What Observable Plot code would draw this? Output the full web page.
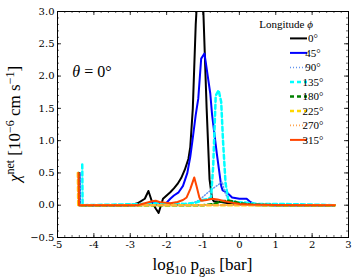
<!DOCTYPE html>
<html><head><meta charset="utf-8">
<script src="https://cdn.jsdelivr.net/npm/d3@7"></script>
<script src="https://cdn.jsdelivr.net/npm/@observablehq/plot@0.6"></script>
<style>body{margin:0;background:#fff} svg{display:block}</style>
</head><body><div id="chart"></div><script>
// ---- data (log10 p_gas [bar], chi_net [1e-6 cm/s]) ----
const labels = ["0°","45°","90°","135°","180°","225°","270°","315°"];
const p0   = [-4.41,-4.40,-3.0,-2.8,-2.6,-2.5,-2.4,-2.3,-2.22,-2.1,-2.0,-1.9,-1.8,-1.7,-1.6,-1.5,-1.4,-1.35,-1.28,-1.2,-1.08,-0.99,-0.9,-0.82,-0.75,-0.7,-0.5,-0.3,0.0,0.5,1.0,2.0,2.62];
const v0   = [0.5,0.0,0.0,0.03,0.1,0.22,0.05,-0.05,-0.12,0.1,0.15,0.2,0.26,0.33,0.42,0.55,0.72,0.9,1.5,2.8,4.0,3.0,1.5,0.4,0.1,0.06,0.05,0.03,0.01,0.0,0.0,0.0,0.0];
const p45  = [-4.39,-4.38,-2.8,-2.5,-2.3,-2.15,-2.0,-1.9,-1.8,-1.67,-1.55,-1.43,-1.35,-1.29,-1.2,-1.13,-1.05,-0.96,-0.8,-0.75,-0.62,-0.5,-0.46,-0.35,-0.2,0.0,0.2,0.3,0.45,1.0,2.0,2.62];
const v45  = [0.5,0.0,0.0,0.03,0.05,0.03,0.04,0.1,0.15,0.2,0.3,0.5,0.75,1.0,1.4,1.65,2.27,2.35,1.73,1.4,0.8,0.3,0.23,0.2,0.12,0.1,0.1,0.05,0.01,0.0,0.0,0.0];
const p90  = [-4.38,-4.37,-1.5,-1.3,-1.1,-0.9,-0.7,-0.47,-0.4,-0.3,0.0,0.5,1.0,2.0,2.62];
const v90  = [0.5,0.0,0.0,0.03,0.08,0.18,0.27,0.36,0.2,0.08,0.04,0.01,0.0,0.0,0.0];
const p135 = [-4.32,-4.31,-2.5,-2.2,-1.5,-1.2,-1.0,-0.85,-0.78,-0.72,-0.65,-0.57,-0.5,-0.45,-0.38,-0.3,-0.2,0.2,0.5,1.0,2.0,2.62];
const v135 = [0.63,0.0,0.02,0.03,0.02,0.04,0.08,0.1,0.12,0.6,1.7,1.78,1.6,1.0,0.34,0.07,0.05,0.04,0.02,0.02,0.01,0.0];
const p180 = [-4.42,-4.41,-1.0,-0.7,-0.5,-0.3,-0.15,0.0,0.3,1.0,2.62];
const v180 = [0.5,0.0,0.0,0.02,0.06,0.07,0.06,0.03,0.01,0.0,0.0];
const p225 = [-4.44,-4.43,-2.0,-1.0,0.0,1.0,2.62];
const v225 = [0.5,0.0,0.0,0.0,0.0,0.0,0.0];
const p270 = [-4.43,-4.42,-2.0,-1.0,0.0,1.0,2.62];
const v270 = [0.5,0.0,0.0,0.0,0.0,0.0,0.0];
const p315 = [-4.42,-4.41,-2.8,-2.6,-2.4,-2.3,-2.2,-2.05,-1.9,-1.7,-1.55,-1.45,-1.35,-1.24,-1.18,-1.1,-1.05,-0.9,-0.75,-0.6,-0.4,-0.2,0.0,0.3,1.0,2.62];
const v315 = [0.5,0.0,0.0,0.03,0.06,0.07,0.05,0.04,0.03,0.05,0.08,0.12,0.25,0.43,0.3,0.12,0.07,0.08,0.1,0.09,0.06,0.04,0.02,0.01,0.005,0.0];

const xTicks = [-5,-4,-3,-2,-1,0,1,2,3];
const yTicks = [-0.5,0,0.5,1,1.5,2,2.5,3];

// ---- styles ----
const colors = ["#000000","#0000ff","#6495ed","#00ffff","#008000","#ffd700","#ffa54f","#ff4500"];
const dashes = [null,null,"1,2","4,3","4,3","4,3","1,2",null];
const widths = [2,2,1.5,2.5,2.5,2.5,1.8,2];
const xs = [p0,p45,p90,p135,p180,p225,p270,p315];
const ys = [v0,v45,v90,v135,v180,v225,v270,v315];

const FONT_A = "DejaVu Serif";
const FONT_B = "Liberation Serif";
const W = 357, H = 279, mL = 57, mR = 9, mT = 11, mB = 42;
const innerW = W - mL - mR, innerH = H - mT - mB;

const xMinor = d3.range(-5, 3.0001, 0.2).map(d => +d.toFixed(2));
const yMinor = d3.range(-0.5, 3.0001, 0.1).map(d => +d.toFixed(2));

const lineMarks = xs.map((px, i) => Plot.line(px, {
  x: px, y: ys[i], stroke: colors[i], strokeWidth: widths[i],
  strokeDasharray: dashes[i], clip: true, strokeLinejoin: "round"
}));

const tk = {stroke: "#000", strokeWidth: 0.8};
const plot = Plot.plot({
  width: W, height: H,
  marginLeft: mL, marginRight: mR, marginTop: mT, marginBottom: mB,
  style: {fontFamily: FONT_A, fontSize: "10px", background: "#fff", color: "#000"},
  x: {domain: [-5, 3]},
  y: {domain: [-0.5, 3]},
  marks: [
    ...lineMarks,
    Plot.tickX(xMinor, {x: d => d, insetTop: innerH - 2, ...tk, strokeWidth: 0.6}),
    Plot.tickX(xMinor, {x: d => d, insetBottom: innerH - 2, ...tk, strokeWidth: 0.6}),
    Plot.tickX(xTicks, {x: d => d, insetTop: innerH - 4, ...tk}),
    Plot.tickX(xTicks, {x: d => d, insetBottom: innerH - 4, ...tk}),
    Plot.tickY(yMinor, {y: d => d, insetRight: innerW - 2, ...tk, strokeWidth: 0.6}),
    Plot.tickY(yMinor, {y: d => d, insetLeft: innerW - 2, ...tk, strokeWidth: 0.6}),
    Plot.tickY(yTicks, {y: d => d, insetRight: innerW - 4, ...tk}),
    Plot.tickY(yTicks, {y: d => d, insetLeft: innerW - 4, ...tk}),
    Plot.axisX({ticks: xTicks, tickSize: 0, tickPadding: 3, tickFormat: d => `${d}`, label: null, fontSize: 10}),
    Plot.axisY({ticks: yTicks, tickSize: 0, tickPadding: 3, tickFormat: d3.format(".1f"), label: null, fontSize: 10}),
    Plot.frame({stroke: "#000", strokeWidth: 1})
  ]
});
document.getElementById("chart").appendChild(plot);

// ---- annotations: axis titles, theta label, legend ----
const svg = d3.select(plot);
const g = svg.append("g").attr("font-family", FONT_B).attr("fill", "#000");

// x title
const xt = g.append("text").attr("x", mL + innerW / 2).attr("y", H - 9)
  .attr("text-anchor", "middle").attr("font-size", 17);
xt.append("tspan").text("log");
xt.append("tspan").attr("font-size", 12).attr("dy", 4).text("10");
xt.append("tspan").attr("dy", -4).text(" p");
xt.append("tspan").attr("font-size", 12).attr("dy", 4).text("gas");
xt.append("tspan").attr("dy", -4).text(" [bar]");

// y title
const yt = g.append("text").attr("transform", `translate(20,${mT + innerH / 2}) rotate(-90)`)
  .attr("text-anchor", "middle").attr("font-size", 17);
yt.append("tspan").attr("font-style", "italic").text("χ");
yt.append("tspan").attr("font-size", 12).attr("dy", -6).text("net");
yt.append("tspan").attr("dy", 6).text(" [10");
yt.append("tspan").attr("font-size", 12).attr("dy", -6).text("−6");
yt.append("tspan").attr("dy", 6).text(" cm s");
yt.append("tspan").attr("font-size", 12).attr("dy", -6).text("−1");
yt.append("tspan").attr("dy", 6).text("]");

// theta label
const th = g.append("text").attr("x", 92).attr("y", 77).attr("font-size", 16);
th.append("tspan").attr("font-style", "italic").text("θ");
th.append("tspan").text(" = 0°");

// legend
const lg = g.append("g");
const lt = lg.append("text").attr("x", 286).attr("y", 27.5).attr("font-size", 11);
lt.append("tspan").text("Longitude ");
lt.append("tspan").attr("font-style", "italic").text("ϕ");
labels.forEach((lab, i) => {
  const cy = 38.4 + i * 14.5;
  lg.append("line").attr("x1", 290).attr("x2", 307).attr("y1", cy).attr("y2", cy)
    .attr("stroke", colors[i]).attr("stroke-width", widths[i])
    .attr("stroke-dasharray", dashes[i]);
  lg.append("text").attr("x", 313).attr("y", cy + 3.8).attr("font-size", 11).text(lab);
});
</script></body></html>
